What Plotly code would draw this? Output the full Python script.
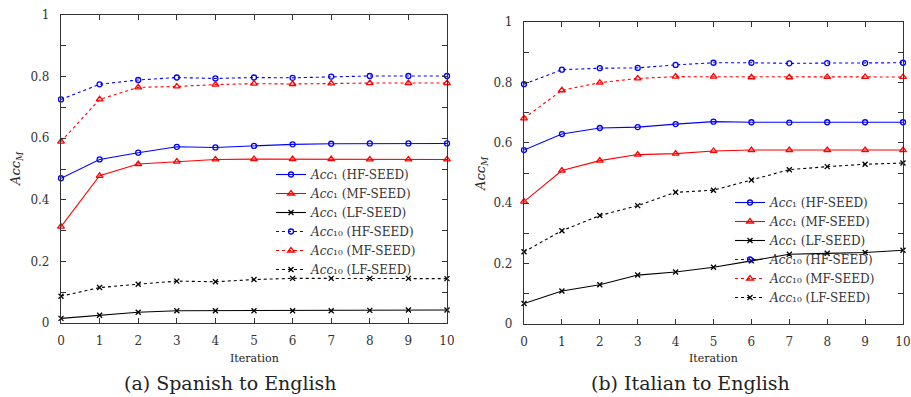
import plotly.graph_objects as go

iterations = list(range(11))

# (a) Spanish to English
es_acc1_hf = [0.470, 0.531, 0.553, 0.572, 0.570, 0.575, 0.580, 0.582, 0.583, 0.583, 0.583]
es_acc1_mf = [0.313, 0.478, 0.516, 0.524, 0.531, 0.532, 0.532, 0.532, 0.531, 0.531, 0.531]
es_acc1_lf = [0.015, 0.025, 0.035, 0.040, 0.040, 0.040, 0.040, 0.040, 0.041, 0.042, 0.042]
es_acc10_hf = [0.726, 0.775, 0.789, 0.797, 0.794, 0.797, 0.796, 0.800, 0.802, 0.802, 0.802]
es_acc10_mf = [0.589, 0.726, 0.765, 0.768, 0.774, 0.777, 0.776, 0.778, 0.779, 0.779, 0.779]
es_acc10_lf = [0.087, 0.115, 0.126, 0.136, 0.134, 0.141, 0.145, 0.145, 0.145, 0.145, 0.144]

# (b) Italian to English
it_acc1_hf = [0.576, 0.629, 0.649, 0.652, 0.662, 0.670, 0.668, 0.667, 0.668, 0.668, 0.668]
it_acc1_mf = [0.405, 0.508, 0.541, 0.561, 0.564, 0.573, 0.576, 0.576, 0.576, 0.576, 0.576]
it_acc1_lf = [0.068, 0.109, 0.130, 0.162, 0.172, 0.188, 0.209, 0.231, 0.234, 0.237, 0.244]
it_acc10_hf = [0.794, 0.842, 0.847, 0.848, 0.858, 0.865, 0.865, 0.863, 0.864, 0.864, 0.865]
it_acc10_mf = [0.681, 0.774, 0.799, 0.813, 0.819, 0.819, 0.817, 0.817, 0.818, 0.818, 0.818]
it_acc10_lf = [0.239, 0.309, 0.359, 0.392, 0.436, 0.443, 0.477, 0.511, 0.521, 0.529, 0.533]

series_names = [
    "<i>Acc</i>₁ (HF-SEED)",
    "<i>Acc</i>₁ (MF-SEED)",
    "<i>Acc</i>₁ (LF-SEED)",
    "<i>Acc</i>₁₀ (HF-SEED)",
    "<i>Acc</i>₁₀ (MF-SEED)",
    "<i>Acc</i>₁₀ (LF-SEED)",
]
y_tickvals = [0, 0.1, 0.2, 0.3, 0.4, 0.5, 0.6, 0.7, 0.8, 0.9, 1.0]
y_ticktext = ["0", "", "0.2", "", "0.4", "", "0.6", "", "0.8", "", "1"]
x_tickvals = list(range(11))
captions = ["(a) Spanish to English", "(b) Italian to English"]

FONT = "DejaVu Serif"
TXT = "#333"
colors = ["#0000ff", "#ff0000", "#000000"]
symbols = ["circle-open", "triangle-up-open", "x-thin-open"]
sizes = [5, 6, 5]

fig = go.Figure()

panels = [
    ([es_acc1_hf, es_acc1_mf, es_acc1_lf, es_acc10_hf, es_acc10_mf, es_acc10_lf], "x", "y", "legend"),
    ([it_acc1_hf, it_acc1_mf, it_acc1_lf, it_acc10_hf, it_acc10_mf, it_acc10_lf], "x2", "y2", "legend2"),
]
for data, xa, ya, lg in panels:
    for i, vals in enumerate(data):
        k = i % 3
        dash = "solid" if i < 3 else "3px,3px"
        fig.add_trace(go.Scatter(
            x=iterations, y=vals, xaxis=xa, yaxis=ya, legend=lg,
            name=series_names[i], mode="lines+markers",
            line=dict(color=colors[k], width=1.1, dash=dash),
            marker=dict(symbol=symbols[k], size=sizes[k], color=colors[k],
                        line=dict(width=1.3, color=colors[k])),
            cliponaxis=False,
        ))

axis_common = dict(showline=True, linecolor="#333", linewidth=1.2, mirror="ticks",
                   ticks="inside", ticklen=5, tickcolor="#333", showgrid=False,
                   zeroline=False, automargin=False,
                   tickfont=dict(family=FONT, size=12, color=TXT))

legend_common = dict(xanchor="left", yanchor="top", bgcolor="rgba(0,0,0,0)",
                     font=dict(family=FONT, size=12, color=TXT),
                     tracegroupgap=0, itemwidth=30)

fig.update_layout(
    template="none",
    width=911, height=397,
    margin=dict(l=0, r=0, t=0, b=0, autoexpand=False),
    paper_bgcolor="white", plot_bgcolor="white",
    showlegend=True,
    xaxis=dict(domain=[61/911, 447/911], range=[0, 10], tickvals=x_tickvals,
               ticklabelstandoff=6, anchor="y", **axis_common),
    yaxis=dict(domain=[1-323/397, 1-15/397], range=[0, 1], tickvals=y_tickvals,
               ticktext=y_ticktext, ticklabelstandoff=8, anchor="x", **axis_common),
    xaxis2=dict(domain=[524/911, 903/911], range=[0, 10], tickvals=x_tickvals,
                ticklabelstandoff=6, anchor="y2", **axis_common),
    yaxis2=dict(domain=[1-324/397, 1-22/397], range=[0, 1], tickvals=y_tickvals,
                ticktext=y_ticktext, ticklabelstandoff=8, anchor="x2", **axis_common),
    legend=dict(x=271/911, y=1-160/397, **legend_common),
    legend2=dict(x=730/911, y=1-188/397, **legend_common),
)

annots = [
    dict(text="<i>Acc</i><sub><i>M</i></sub>", x=16/911, y=1-169/397, textangle=-90, size=13),
    dict(text="<i>Acc</i><sub><i>M</i></sub>", x=481/911, y=1-173/397, textangle=-90, size=13),
    dict(text="Iteration", x=254/911, y=1-358/397, textangle=0, size=11),
    dict(text="Iteration", x=713/911, y=1-358/397, textangle=0, size=11),
    dict(text=captions[0], x=230/911, y=1-383/397, textangle=0, size=19),
    dict(text=captions[1], x=690/911, y=1-383/397, textangle=0, size=19),
]
for a in annots:
    fig.add_annotation(xref="paper", yref="paper", showarrow=False,
                       xanchor="center", yanchor="middle", text=a["text"],
                       x=a["x"], y=a["y"], textangle=a["textangle"],
                       font=dict(family=FONT, size=a["size"], color="#222"))

fig.write_html("out.html")
